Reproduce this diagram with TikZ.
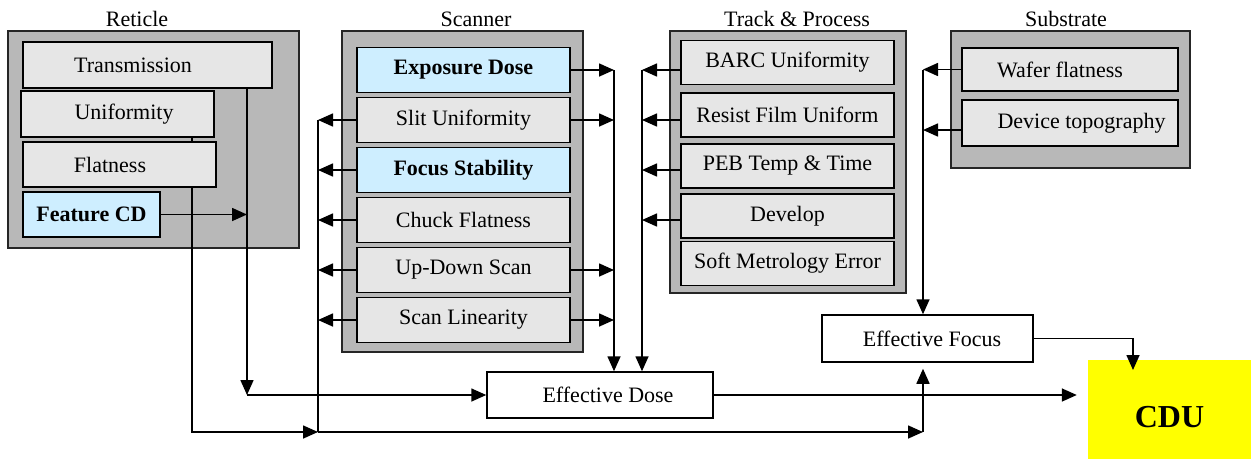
\documentclass[tikz,border=0pt]{standalone}
\usepackage{fontspec}
\setmainfont{Liberation Serif}
\usetikzlibrary{arrows.meta}

\definecolor{groupgray}{RGB}{184,184,184}
\definecolor{itemgray}{RGB}{230,230,230}
\definecolor{itemblue}{RGB}{206,238,255}
\definecolor{cduyellow}{RGB}{255,255,0}

\begin{document}
\begin{tikzpicture}[x=1pt,y=-1pt,
	>={Triangle[length=15pt,width=13pt]},
	every node/.style={font=\fontsize{22}{26}\selectfont},
	group/.style={draw=black!85,line width=1.5pt,fill=groupgray},
	item/.style={draw=black,line width=1.9pt,fill=itemgray,
		minimum width=213pt,minimum height=45pt,inner sep=0pt},
	keyitem/.style={item,fill=itemblue,font=\fontsize{22}{26}\selectfont\bfseries},
	effect/.style={draw=black,line width=1.5pt,fill=white,
		minimum height=46pt,inner sep=0pt},
	link/.style={line width=1.6pt}]

\useasboundingbox (0,0) rectangle (1251,459);

% group frames
\draw[group] (8,31) rectangle (299,248);
\draw[group] (342,31) rectangle (583,352);
\draw[group] (670,31) rectangle (906,293);
\draw[group] (951,31) rectangle (1190,168);

\node (reticle) at (137,19) {Reticle};
\node (scanner) at (476,19) {Scanner};
\node (track) at (797,19) {Track \& Process};
\node (substrate) at (1066,19) {Substrate};

% reticle
\node[item,minimum width=249pt,minimum height=46pt] (trans) at (147.5,65) {Transmission\hspace*{29pt}};
\node[item,minimum width=193pt,minimum height=46pt] (uni) at (117.5,114) {\hspace*{13pt}Uniformity};
\node[item,minimum width=193pt] (flat) at (119.5,164.5) {Flatness\hspace*{19pt}};
\node[keyitem,minimum width=137pt] (fcd) at (91.5,214.5) {Feature CD};

% scanner
\node[keyitem] (expo) at (463.5,70) {Exposure Dose};
\node[item] (slit) at (463.5,120) {Slit Uniformity};
\node[keyitem] (focstab) at (463.5,170) {Focus Stability};
\node[item] (chuck) at (463.5,220) {Chuck Flatness};
\node[item] (updown) at (463.5,270) {Up-Down Scan};
\node[item] (scanlin) at (463.5,320) {Scan Linearity};

% track & process
\node[item,minimum height=44pt] (barc) at (787.5,62.5) {BARC Uniformity};
\node[item,minimum height=44pt] (resist) at (787.5,115) {Resist Film Uniform};
\node[item,minimum height=44pt] (peb) at (787.5,166) {PEB Temp \& Time};
\node[item,minimum height=44pt] (develop) at (787.5,216) {Develop};
\node[item,minimum height=44pt] (softmet) at (787.5,263.5) {Soft Metrology Error};

% substrate
\node[item,minimum width=216pt,minimum height=43pt] (wafer) at (1070,69.5) {Wafer flatness\hspace*{20pt}};
\node[item,minimum width=216pt,minimum height=46pt] (device) at (1070,123) {\hspace*{23pt}Device topography};

% results
\node[effect,minimum width=226pt] (effdose) at (600,395) {\hspace*{16pt}Effective Dose};
\node[effect,minimum width=211pt,minimum height=47pt] (efffocus) at (927.5,338.5) {\hspace*{9pt}Effective Focus};
\node[fill=cduyellow,minimum width=163pt,minimum height=99pt,inner sep=0pt,
	text height=35pt,text depth=0pt,
	font=\fontsize{32}{36}\selectfont\bfseries] (cdu) at (1169.5,409.5) {CDU};

\coordinate (transdrop) at (247,0);
\coordinate (unidrop) at (192,0);
\coordinate (focusbus) at (318,120);
\coordinate (dosebus) at (614,70);
\coordinate (trackbus) at (642,70);
\coordinate (subbus) at (923,69.5);
\coordinate (lowbus) at (318,432);
\coordinate (cdudrop) at (1133,370);

% reticle lines
\draw[link,->] (fcd.east) -- (fcd.east -| transdrop);
\draw[link,->] (trans.south -| transdrop) -- (transdrop |- effdose.west);
\draw[link,->] (transdrop |- effdose.west) -- (effdose.west);
\draw[link] (uni.south -| unidrop) -- (flat.north -| unidrop);
\draw[link,->] (flat.south -| unidrop) -- (unidrop |- lowbus) -- (lowbus);

% scanner lines
\draw[link,->] (expo.east) -- (expo.east -| dosebus);
\draw[link,->] (slit.east) -- (slit.east -| dosebus);
\draw[link,->] (updown.east) -- (updown.east -| dosebus);
\draw[link,->] (scanlin.east) -- (scanlin.east -| dosebus);
\draw[link,->] (dosebus) -- (dosebus |- effdose.north);

\draw[link,->] (slit.west) -- (slit.west -| focusbus);
\draw[link,->] (focstab.west) -- (focstab.west -| focusbus);
\draw[link,->] (chuck.west) -- (chuck.west -| focusbus);
\draw[link,->] (updown.west) -- (updown.west -| focusbus);
\draw[link,->] (scanlin.west) -- (scanlin.west -| focusbus);
\draw[link] (focusbus) -- (lowbus);
\draw[link,->] (lowbus) -- (lowbus -| subbus);
\draw[link,->,shorten >=6pt] (lowbus -| subbus) -- (subbus |- efffocus.south);

% track lines
\draw[link,->] (barc.west |- expo.east) -- (trackbus |- expo.east);
\draw[link,->] (resist.west |- slit.east) -- (trackbus |- slit.east);
\draw[link,->] (peb.west |- focstab.east) -- (trackbus |- focstab.east);
\draw[link,->] (develop.west |- chuck.east) -- (trackbus |- chuck.east);
\draw[link,->] (trackbus) -- (trackbus |- effdose.north);

% substrate lines
\draw[link,->] (wafer.west) -- (wafer.west -| subbus);
\draw[link,->] ([yshift=-7pt]device.west) -- ([yshift=-7pt]device.west -| subbus);
\draw[link,->] (subbus) -- (subbus |- efffocus.north);

% to CDU
\draw[link,->,shorten >=11pt] (effdose.east) -- (effdose.east -| cdu.west);
\draw[link,->] (efffocus.east) -| (cdudrop);

\end{tikzpicture}
\end{document}
